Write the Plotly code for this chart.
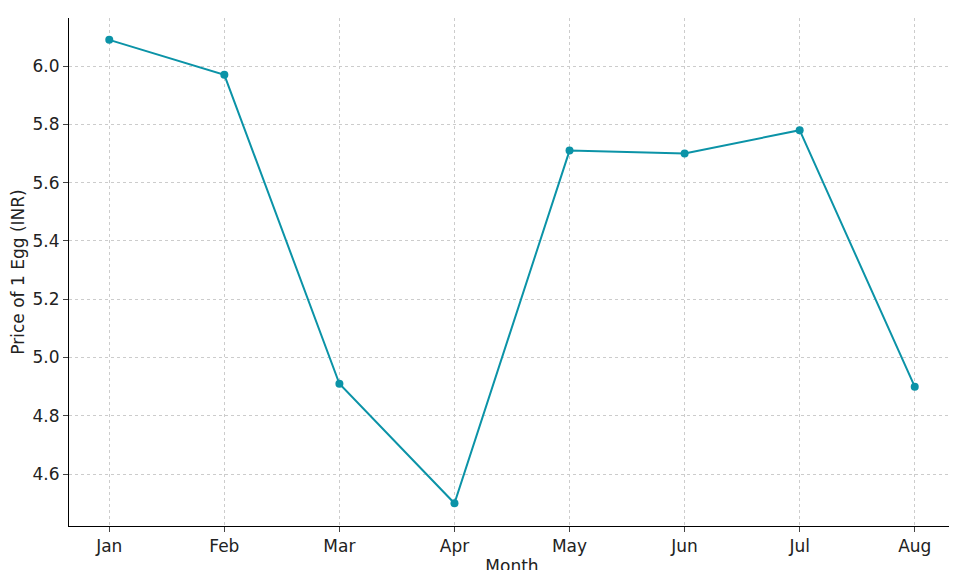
import plotly.graph_objects as go

months = ["Jan", "Feb", "Mar", "Apr", "May", "Jun", "Jul", "Aug"]
prices = [6.09, 5.97, 4.91, 4.50, 5.71, 5.70, 5.78, 4.90]

fig = go.Figure(go.Scatter(x=list(range(len(months))), y=prices, mode="lines+markers",
                           line=dict(color="#0b93a7", width=2), marker=dict(size=8, color="#0b93a7")))
fig.update_layout(width=957, height=570, margin=dict(l=61, r=10, t=10, b=52, autoexpand=False),
                  plot_bgcolor="white", paper_bgcolor="white", showlegend=False,
                  font=dict(family="DejaVu Sans", size=17, color="#222"))
fig.update_xaxes(tickvals=list(range(len(months))), ticktext=months, range=[-0.35, 7.35],
                 showgrid=True, gridcolor="#cccccc", griddash="3px,3px", showline=True, linecolor="black",
                 ticks="outside", ticklen=5, automargin=False,
                 title=dict(text="Month", font=dict(size=17), standoff=4), zeroline=False)
fig.update_yaxes(range=[4.422, 6.165], dtick=0.2, tickformat=".1f",
                 showgrid=True, gridcolor="#cccccc", griddash="3px,3px", showline=True, linecolor="black",
                 ticks="outside", ticklen=5, automargin=False,
                 title=dict(text="Price of 1 Egg (INR)", font=dict(size=17), standoff=6), zeroline=False)
fig.write_html("out.html", config={"responsive": False})
